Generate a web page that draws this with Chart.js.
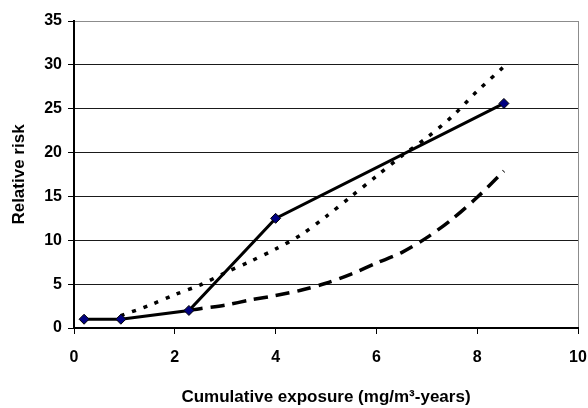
<!DOCTYPE html>
<html>
<head>
<meta charset="utf-8">
<script src="https://cdn.jsdelivr.net/npm/chart.js@4.4.0/dist/chart.umd.min.js"></script>
<style>
    html, body { margin: 0; padding: 0; background: #fff; }
    #wrap { width: 588px; height: 408px; }
</style>
</head>
<body>
<div id="wrap"><canvas id="riskChart" width="588" height="408"></canvas></div>
<script>
// observed relative risk by exposure category
var observedX = [0.2, 0.93, 2.28, 4.0, 8.53];
var observedY = [1.0, 1.0, 2.0, 12.5, 25.6];

// fitted model (dotted)
var dottedX = [0.93, 1.5, 2, 2.5, 3, 3.5, 4, 4.5, 5, 5.5, 6, 6.5, 7, 7.5, 8, 8.53];
var dottedY = [1.4, 2.6, 3.8, 4.9, 6.3, 7.6, 9.0, 10.6, 12.7, 15.0, 17.3, 19.6, 21.7, 24.1, 27.0, 29.8];

// fitted model (dashed)
var dashedX = [2.28, 2.5, 3, 3.5, 4, 4.5, 5, 5.5, 6, 6.5, 7, 7.5, 8, 8.53];
var dashedY = [2.0, 2.2, 2.6, 3.2, 3.7, 4.3, 5.1, 6.15, 7.4, 8.6, 10.3, 12.4, 14.9, 17.9];

var xTicks = [0, 2, 4, 6, 8, 10];
var yTicks = [0, 5, 10, 15, 20, 25, 30, 35];

function toPoints(xs, ys) {
    var pts = [];
    for (var i = 0; i < xs.length; ++i) {
        pts.push({x: xs[i], y: ys[i]});
    }
    return pts;
}

var tickFont = {family: "'Liberation Sans', Arial, sans-serif", size: 16, weight: 'bold'};
var titleFont = {family: "'Liberation Sans', Arial, sans-serif", size: 17, weight: 'bold'};

var ctx = document.getElementById('riskChart').getContext('2d');

var riskChart = new Chart(ctx, {
    type: 'scatter',
    data: {
        datasets: [
            {
                label: 'Observed',
                data: toPoints(observedX, observedY),
                showLine: true,
                borderColor: '#000',
                borderWidth: 3,
                tension: 0,
                pointStyle: 'rectRot',
                pointRadius: 5,
                pointBackgroundColor: '#000080',
                pointBorderColor: '#000',
                pointBorderWidth: 1,
                order: 0
            },
            {
                label: 'Model 1',
                data: toPoints(dottedX, dottedY),
                showLine: true,
                borderColor: '#000',
                borderWidth: 3.5,
                borderDash: [4, 8],
                tension: 0.3,
                pointRadius: 0,
                order: 1
            },
            {
                label: 'Model 2',
                data: toPoints(dashedX, dashedY),
                showLine: true,
                borderColor: '#000',
                borderWidth: 3.5,
                borderDash: [14, 8],
                tension: 0.3,
                pointRadius: 0,
                order: 2
            }
        ]
    },
    options: {
        responsive: false,
        animation: false,
        layout: {padding: {left: 9, right: 10, top: 21, bottom: 0}},
        plugins: {
            legend: {display: false},
            tooltip: {enabled: false}
        },
        scales: {
            x: {
                type: 'linear',
                min: 0,
                max: 10,
                afterBuildTicks: function(scale) {
                    scale.ticks = xTicks.map(function(v) { return {value: v}; });
                },
                afterFit: function(scale) {
                    scale.height = 80;
                    scale.paddingRight = 0;
                    scale.paddingLeft = 0;
                },
                ticks: {color: '#000', font: tickFont, padding: 14, maxRotation: 0},
                grid: {
                    drawOnChartArea: true,
                    tickLength: 6,
                    tickColor: '#000',
                    tickWidth: 1,
                    color: function(c) { return c.tick && c.tick.value === 10 ? '#8c8c8c' : 'rgba(0,0,0,0)'; }
                },
                border: {color: '#000', width: 2},
                title: {
                    display: true,
                    text: 'Cumulative exposure (mg/m\u00b3-years)',
                    color: '#000',
                    font: titleFont,
                    padding: 0
                }
            },
            y: {
                min: 0,
                max: 35,
                afterBuildTicks: function(scale) {
                    scale.ticks = yTicks.map(function(v) { return {value: v}; });
                },
                afterFit: function(scale) {
                    scale.width = 65;
                    scale.paddingTop = 0;
                    scale.paddingBottom = 0;
                },
                ticks: {color: '#000', font: tickFont, padding: 6},
                grid: {
                    tickLength: 6,
                    tickColor: '#000',
                    lineWidth: 1,
                    color: function(c) { return c.tick && c.tick.value === 35 ? '#8c8c8c' : '#1a1a1a'; }
                },
                border: {color: '#000', width: 2},
                title: {
                    display: true,
                    text: 'Relative risk',
                    color: '#000',
                    font: titleFont,
                    padding: 0
                }
            }
        }
    }
});
</script>
</body>
</html>
